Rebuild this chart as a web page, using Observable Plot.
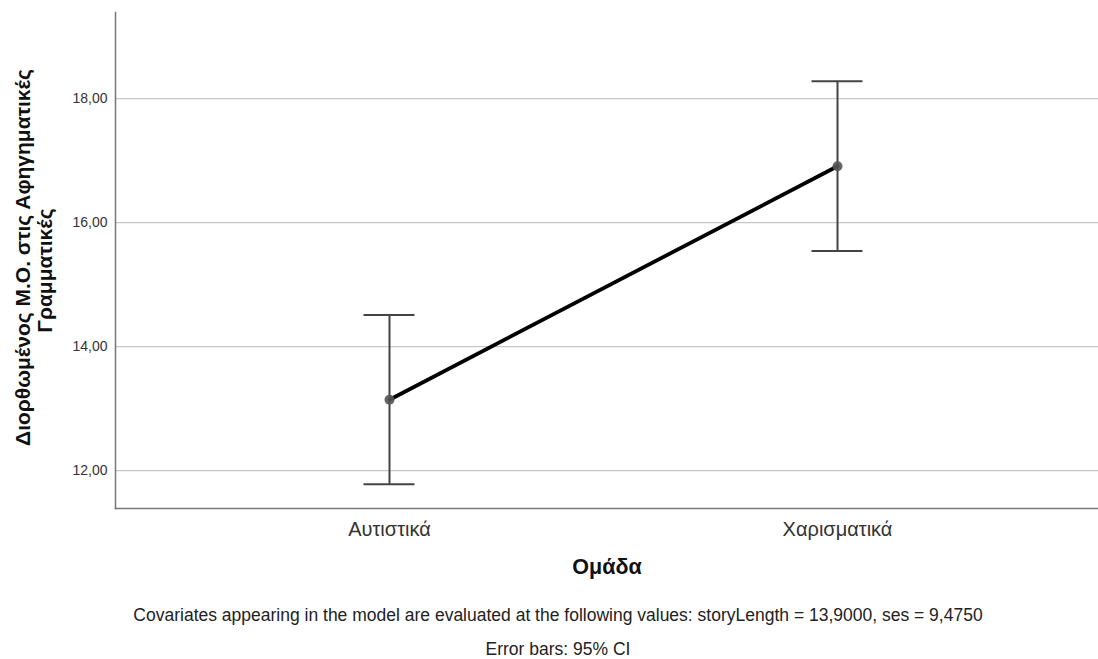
<!DOCTYPE html>
<html>
<head>
<meta charset="utf-8">
<script src="https://cdn.jsdelivr.net/npm/d3@7"></script>
<script src="https://cdn.jsdelivr.net/npm/@observablehq/plot@0.6"></script>
<style>
  html, body { margin: 0; padding: 0; background: #fff; }
  body { width: 1098px; height: 659px; overflow: hidden; font-family: "Liberation Sans", Arial, sans-serif; position: relative; }
  #chart svg { display: block; }
  .note { position: absolute; left: 0; width: 1116px; text-align: center; font-size: 17.5px; line-height: 20px; color: #222; white-space: nowrap; }
</style>
</head>
<body>
<div id="chart"></div>
<div class="note" id="note1" style="top:605px;"></div>
<div class="note" id="note2" style="top:639px;"></div>
<script>
// Estimated marginal means of the adjusted narrative grammar score by group
const groups = ["Αυτιστικά", "Χαρισματικά"];
const means  = [13.145, 16.91];
const lower  = [11.78, 15.545];
const upper  = [14.51, 18.28];
const yTicks = [12, 14, 16, 18];

const yTitleLines = ["Διορθωμένος Μ.Ο. στις Αφηγηματικές", "Γραμματικές"];
const xTitle = "Ομάδα";
const notes = [
  "Covariates appearing in the model are evaluated at the following values: storyLength = 13,9000, ses = 9,4750",
  "Error bars: 95% CI"
];

const rows = groups.map((g, i) => ({group: g, mean: means[i], lo: lower[i], hi: upper[i]}));
const fmt = d => d.toFixed(2).replace(".", ",");
const titleStyle = {frameAnchor: "left", rotate: -90, textAnchor: "middle", text: d => d, fontSize: 21, fontWeight: "bold", fill: "#111"};

const chart = Plot.plot({
  width: 1098,
  height: 596,
  marginLeft: 115,
  marginRight: 0,
  marginTop: 12,
  marginBottom: 88,
  style: {fontFamily: "'Liberation Sans', Arial, sans-serif", background: "#fff"},
  // narrow bands: the band width sets the whisker cap length
  x: {type: "band", domain: groups, range: [363.5, 862.5], paddingInner: 0.8862, paddingOuter: 0, round: false, label: null},
  y: {domain: [11.39, 19.39], label: null},
  marks: [
    Plot.gridY(yTicks, {stroke: "#c8c8c8", strokeOpacity: 1, strokeWidth: 1.2}),
    Plot.axisY(yTicks, {tickSize: 0, tickPadding: 8, tickFormat: fmt, fontSize: 14, fill: "#333", label: null}),
    Plot.axisX({tickSize: 0, tickPadding: 13, fontSize: 20, fill: "#333", label: null}),
    Plot.frame({anchor: "left", stroke: "#777", strokeWidth: 1.5}),
    Plot.frame({anchor: "bottom", stroke: "#777", strokeWidth: 1.5}),
    // 95% CI whiskers with caps
    Plot.ruleX(rows, {x: "group", y1: "lo", y2: "hi", stroke: "#444", strokeWidth: 2}),
    Plot.tickY(rows, {x: "group", y: "lo", stroke: "#444", strokeWidth: 2}),
    Plot.tickY(rows, {x: "group", y: "hi", stroke: "#444", strokeWidth: 2}),
    // Mean profile line and markers
    Plot.line(rows, {x: "group", y: "mean", stroke: "#000", strokeWidth: 3.8}),
    Plot.dot(rows, {x: "group", y: "mean", r: 5, fill: "#555", fillOpacity: 0.9, stroke: null}),
    // Axis titles (the y title is set on two lines)
    Plot.text(yTitleLines.slice(0, 1), {...titleStyle, dx: -92, dy: -3}),
    Plot.text(yTitleLines.slice(1), {...titleStyle, dx: -70, dy: 10}),
    Plot.text([xTitle], {frameAnchor: "bottom", dy: 65, textAnchor: "middle", text: d => d, fontSize: 21.5, fontWeight: "bold", fill: "#111"})
  ]
});
document.getElementById("chart").append(chart);
document.getElementById("note1").textContent = notes[0];
document.getElementById("note2").textContent = notes[1];
</script>
</body>
</html>
